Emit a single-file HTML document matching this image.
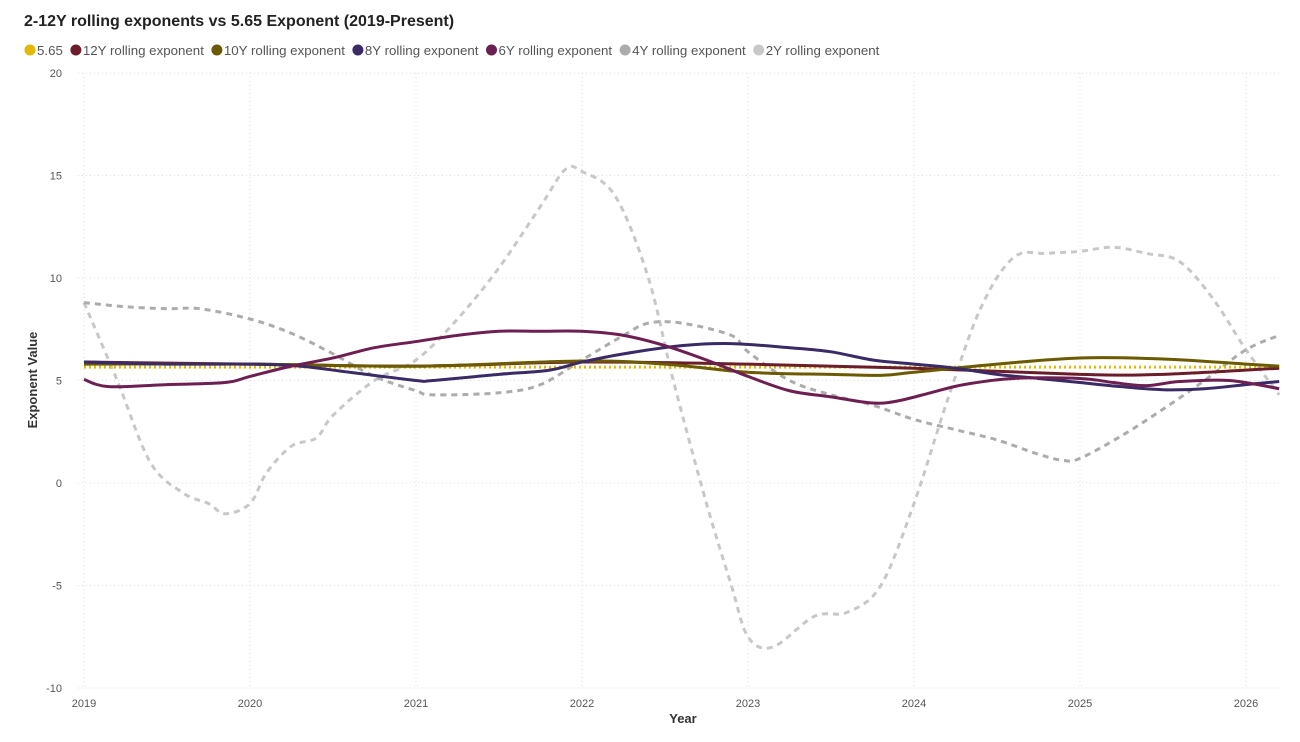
<!DOCTYPE html>
<html><head><meta charset="utf-8"><style>
body{margin:0;background:#fff;width:1300px;height:737px;overflow:hidden;font-family:"Liberation Sans",sans-serif}
</style></head><body>
<svg id="c" width="1300" height="737" xmlns="http://www.w3.org/2000/svg">
<text x="24" y="26" font-size="16" font-weight="bold" fill="#222">2-12Y rolling exponents vs 5.65 Exponent (2019-Present)</text>
<g id="legend"></g>
<g id="grid"></g>
<g id="series"></g>
<text x="683" y="723" font-size="13" font-weight="bold" fill="#333" text-anchor="middle">Year</text>
<text transform="translate(37,380) rotate(-90)" font-size="13" font-weight="bold" fill="#333" text-anchor="middle">Exponent Value</text>
</svg>
<script>
const yTicks=[-10,-5,0,5,10,15,20];
const xTicks=[2019,2020,2021,2022,2023,2024,2025,2026];
const names=["5.65","12Y rolling exponent","10Y rolling exponent","8Y rolling exponent","6Y rolling exponent","4Y rolling exponent","2Y rolling exponent"];
const x2Y=[2019,2019.2,2019.4,2019.6,2019.75,2019.85,2020,2020.1,2020.25,2020.4,2020.5,2020.75,2021,2021.25,2021.5,2021.75,2021.9,2022,2022.2,2022.4,2022.55,2022.75,2022.9,2023,2023.15,2023.4,2023.6,2023.8,2024,2024.2,2024.4,2024.6,2024.8,2025,2025.2,2025.4,2025.6,2025.8,2026,2026.2];
const v2Y=[8.8,5,1,-0.5,-1,-1.5,-1,0.5,1.8,2.2,3.3,5,6,8,10.5,13.5,15.3,15.2,14,10,5,-1,-5,-7.5,-8,-6.5,-6.3,-5,-1,4,8.5,11,11.2,11.3,11.5,11.2,10.8,9,6.5,4.3];
const x4Y=[2019,2019.25,2019.5,2019.7,2020,2020.25,2020.5,2020.75,2021,2021.1,2021.5,2021.75,2022,2022.25,2022.4,2022.6,2022.9,2023,2023.25,2023.5,2023.75,2024,2024.25,2024.5,2024.75,2024.9,2025,2025.25,2025.5,2025.75,2026,2026.2];
const v4Y=[8.8,8.6,8.5,8.5,8,7.3,6.3,5.2,4.5,4.3,4.4,4.8,6,7.2,7.8,7.8,7.2,6.4,5,4.3,3.8,3.1,2.6,2.1,1.4,1.1,1.2,2.3,3.6,5,6.5,7.2];
const x12Y=[2019,2020,2021,2022,2023,2024,2025,2025.5,2026.2];
const v12Y=[5.9,5.8,5.7,5.9,5.8,5.6,5.3,5.3,5.6];
const x10Y=[2019,2020,2021,2022,2022.5,2023,2023.5,2023.8,2024,2024.5,2025,2025.5,2026,2026.2];
const v10Y=[5.8,5.8,5.7,5.95,5.8,5.4,5.3,5.25,5.4,5.8,6.1,6.05,5.8,5.7];
const x8Y=[2019,2019.5,2020,2020.3,2020.6,2021,2021.1,2021.5,2021.8,2022,2022.25,2022.6,2022.9,2023.25,2023.5,2023.75,2024,2024.25,2024.5,2024.75,2025,2025.25,2025.5,2025.75,2026,2026.2];
const v8Y=[5.9,5.8,5.8,5.7,5.4,5,5,5.3,5.5,5.9,6.3,6.7,6.8,6.6,6.4,6,5.8,5.6,5.3,5.1,4.9,4.7,4.55,4.6,4.8,4.95];
const x6Y=[2019,2019.15,2019.5,2019.85,2020,2020.25,2020.5,2020.75,2021,2021.25,2021.5,2021.75,2022,2022.25,2022.5,2022.75,2023,2023.25,2023.5,2023.75,2023.9,2024.1,2024.3,2024.6,2025,2025.2,2025.4,2025.6,2025.9,2026.2];
const v6Y=[5.05,4.7,4.8,4.9,5.2,5.7,6.1,6.6,6.9,7.2,7.4,7.4,7.4,7.2,6.7,6,5.2,4.5,4.2,3.9,4,4.4,4.8,5.1,5.1,4.9,4.75,4.95,5,4.6];
const xConst=[2019,2026.2];
const vConst=[5.65,5.65];
const X=t=>84+(t-2019)*166;
const Y=v=>483-v*20.5;
const NS="http://www.w3.org/2000/svg";
function mk(tag,at,parent){const e=document.createElementNS(NS,tag);for(const k in at)e.setAttribute(k,at[k]);parent.appendChild(e);return e;}
const grid=document.getElementById('grid');
yTicks.forEach(v=>{
 const l=mk('line',{x1:78,x2:1282,y1:Y(v),y2:Y(v),stroke:'#ddd','stroke-dasharray':'1,3'},grid);
 
 
 const t=mk('text',{x:62,y:Y(v)+4,'font-size':11,fill:'#555','text-anchor':'end'},grid);t.textContent=v;
 
 
});
xTicks.forEach(v=>{
 const l=mk('line',{x1:X(v),x2:X(v),y1:73,y2:688,stroke:'#ddd','stroke-dasharray':'1,3'},grid);
 
 
 const t=mk('text',{x:X(v),y:707,'font-size':11,fill:'#555','text-anchor':'middle'},grid);t.textContent=v;
 
 
});
function path(xs,vs){const p=xs.map((x,i)=>[X(x),Y(vs[i])]);let d='M'+p[0][0]+','+p[0][1];
 for(let i=0;i<p.length-1;i++){const p0=p[i-1]||p[i],p1=p[i],p2=p[i+1],p3=p[i+2]||p2;
  d+=' C'+(p1[0]+(p2[0]-p0[0])/6)+','+(p1[1]+(p2[1]-p0[1])/6)+' '+(p2[0]-(p3[0]-p1[0])/6)+','+(p2[1]-(p3[1]-p1[1])/6)+' '+p2[0]+','+p2[1];}
 return d;}
const ser=document.getElementById('series');
const defs=[
 [x2Y,v2Y,'#c8c8c8','6,5','line-2y'],
 [x4Y,v4Y,'#acacac','6,5','line-4y'],
 [xConst,vConst,'#e2b900','2,3','line-5-65'],
 [x12Y,v12Y,'#6b1e2a',null,'line-12y'],
 [x10Y,v10Y,'#6b5a00',null,'line-10y'],
 [x8Y,v8Y,'#3a2a66',null,'line-8y'],
 [x6Y,v6Y,'#6e1f52',null,'line-6y']];
defs.forEach(d=>{const a={d:path(d[0],d[1]),fill:'none',stroke:d[2],'stroke-width':3,'stroke-linecap':'butt'};if(d[3])a['stroke-dasharray']=d[3];
 const e=mk('path',a,ser);
 
 });
const leg=document.getElementById('legend');
const lc=['#e2b900','#6b1e2a','#6b5a00','#3a2a66','#6e1f52','#acacac','#c8c8c8'];
let lx=24;
names.forEach((n,i)=>{
 const c=mk('circle',{cx:lx+6,cy:50,r:5.5,fill:lc[i]},leg);
 
 
 const t=mk('text',{x:lx+13,y:55,'font-size':13.3,fill:'#555'},leg);t.textContent=n;
 
 
 lx+=13+t.getComputedTextLength()+7;
});
</script>
</body></html>
